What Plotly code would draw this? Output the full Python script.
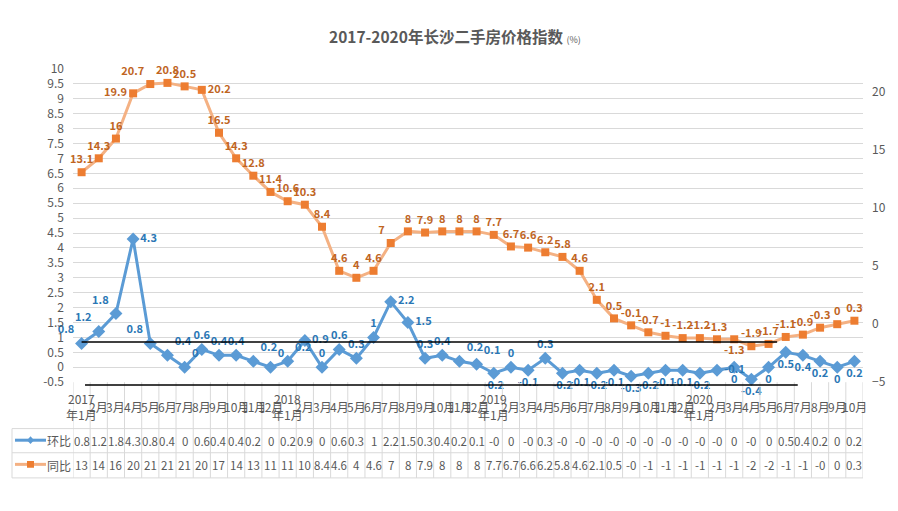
import plotly.graph_objects as go

W, H = 898, 511

# ---------------- data ----------------
years = ["2017", "2018", "2019", "2020"]
months_per_year = [12, 12, 12, 10]
categories = []
for yr, n in zip(years, months_per_year):
    for m in range(1, n + 1):
        categories.append(f"{yr}<br>年1月" if m == 1 else f"{m}月")

huanbi = [0.8, 1.2, 1.8, 4.3, 0.8, 0.4, 0, 0.6, 0.4, 0.4, 0.2, 0,
          0.2, 0.9, 0, 0.6, 0.3, 1, 2.2, 1.5, 0.3, 0.4, 0.2, 0.1,
          -0.2, 0, -0.1, 0.3, -0.2, -0.1, -0.2, -0.1, -0.3, -0.2, -0.1, -0.1,
          -0.2, -0.1, 0, -0.4, 0, 0.5, 0.4, 0.2, 0, 0.2]
tongbi = [13.1, 14.3, 16, 19.9, 20.7, 20.8, 20.5, 20.2, 16.5, 14.3, 12.8, 11.4,
          10.6, 10.3, 8.4, 4.6, 4, 4.6, 7, 8, 7.9, 8, 8, 8,
          7.7, 6.7, 6.6, 6.2, 5.8, 4.6, 2.1, 0.5, -0.1, -0.7, -1, -1.2,
          -1.2, -1.3, -1.3, -1.9, -1.7, -1.1, -0.9, -0.3, 0, 0.3]
series_names = ["环比", "同比"]
left_ticks = [i * 0.5 for i in range(-1, 21)]
right_ticks = [-5, 0, 5, 10, 15, 20]

# ---------------- styles ----------------
hb_pos = (["top left", "top left", "top left", "middle right", "top left", "top right",
           "top right", "top center", "top center", "top center", "top right", "top right",
           "top right", "middle right", "top center", "top center", "top center", "top center",
           "middle right", "middle right", "top center", "top center", "top right", "top right",
           "bottom center", "top center", "bottom center", "top center"]
          + ["bottom center"] * 9
          + ["middle right"] + ["bottom center"] * 8)
tb_pos = (["top center", "top center", "top center", "middle left", "top left", "top center",
           "top center", "middle right"] + ["top center"] * 10 + ["top left"]
          + ["top center"] * 18 + ["top center", "bottom center"] + ["top center"] * 7)

GRAY = "#595959"
FONT = "Noto Sans CJK SC, Noto Sans, sans-serif"
BLUE_LINE = "#5B9BD5"
BLUE_TXT = "#2A77B5"
ORANGE_LINE = "#F4B183"
ORANGE_MK = "#ED7D31"
ORANGE_TXT = "#C0651F"

def px(x):
    return x / W

def py(y):
    return 1 - y / H

PLOT_L, PLOT_R, PLOT_T, PLOT_B = 73, 863, 61, 385
TABLE_L, ROW1, ROW2, TABLE_B = 12, 433, 458, 484

def fmt_label(v):
    return f"{v:g}"

def fmt_cell(v):
    s = f"{v:g}"
    if len(s) <= 3:
        return s
    r = int(abs(v) + 0.5)
    if r == 0:
        return "-0" if v < 0 else "0"
    return str(-r if v < 0 else r)

xs = list(range(len(categories)))

fig = go.Figure()
fig.add_trace(go.Scatter(
    x=xs, y=huanbi, mode="lines+markers+text", name=series_names[0],
    line=dict(color=BLUE_LINE, width=3),
    marker=dict(symbol="diamond", size=10, color=BLUE_LINE),
    text=[fmt_label(v) for v in huanbi], textposition=hb_pos,
    textfont=dict(color=BLUE_TXT, size=11, family=FONT, weight="bold"),
    yaxis="y", cliponaxis=False, showlegend=False))
fig.add_trace(go.Scatter(
    x=xs, y=tongbi, mode="lines+markers+text", name=series_names[1],
    line=dict(color=ORANGE_LINE, width=3),
    marker=dict(symbol="square", size=8, color=ORANGE_MK),
    text=[fmt_label(v) for v in tongbi], textposition=tb_pos,
    textfont=dict(color=ORANGE_TXT, size=11, family=FONT, weight="bold"),
    yaxis="y2", cliponaxis=False, showlegend=False))

annotations = []
shapes = []

# title
annotations.append(dict(
    x=px(455), y=py(27), xref="paper", yref="paper", showarrow=False,
    text="<b>2017-2020年长沙二手房价格指数</b> <span style='font-size:9px'>(%)</span>",
    font=dict(size=15.5, color=GRAY, family=FONT), xanchor="center", yanchor="middle"))

CELL_FONT = dict(size=11.5, color=GRAY, family=FONT)
# category labels and table cells
for i, cat in enumerate(categories):
    annotations.append(dict(x=i, y=py(410), xref="x", yref="paper", text=cat,
                            showarrow=False, font=dict(size=12, color=GRAY, family=FONT),
                            xanchor="center", yanchor="middle"))
    annotations.append(dict(x=i, y=py(445.5), xref="x", yref="paper", text=fmt_cell(huanbi[i]),
                            showarrow=False, font=CELL_FONT, xanchor="center", yanchor="middle"))
    annotations.append(dict(x=i, y=py(471), xref="x", yref="paper", text=fmt_cell(tongbi[i]),
                            showarrow=False, font=CELL_FONT, xanchor="center", yanchor="middle"))

# legend names in table header
for name, yy in zip(series_names, [445.5, 471]):
    annotations.append(dict(x=px(73), y=py(yy), xref="paper", yref="paper", text=name,
                            showarrow=False, font=dict(size=12, color=GRAY, family=FONT),
                            xanchor="right", yanchor="middle"))

GRID = "#D9D9D9"
# table vertical lines
for i in range(len(categories) + 1):
    shapes.append(dict(type="line", xref="x", yref="paper", x0=i - 0.5, x1=i - 0.5,
                       y0=py(PLOT_B), y1=py(TABLE_B), line=dict(color=GRID, width=1)))
for yy in [ROW1, ROW2, TABLE_B]:
    shapes.append(dict(type="line", xref="paper", yref="paper", x0=px(TABLE_L), x1=px(PLOT_R),
                       y0=py(yy), y1=py(yy), line=dict(color=GRID, width=1)))
shapes.append(dict(type="line", xref="paper", yref="paper", x0=px(TABLE_L), x1=px(TABLE_L),
                   y0=py(ROW1), y1=py(TABLE_B), line=dict(color=GRID, width=1)))

# legend keys
shapes.append(dict(type="line", xref="paper", yref="paper", x0=px(15), x1=px(46),
                   y0=py(445), y1=py(445), line=dict(color=BLUE_LINE, width=3)))
shapes.append(dict(type="path", xref="paper", yref="paper",
                   path=f"M {px(30.5)},{py(441)} L {px(34)},{py(445)} L {px(30.5)},{py(449)} L {px(27)},{py(445)} Z",
                   fillcolor=BLUE_LINE, line=dict(width=0)))
shapes.append(dict(type="line", xref="paper", yref="paper", x0=px(15), x1=px(46),
                   y0=py(470), y1=py(470), line=dict(color=ORANGE_LINE, width=3)))
shapes.append(dict(type="rect", xref="paper", yref="paper", x0=px(27), x1=px(34),
                   y0=py(466.5), y1=py(473.5), fillcolor=ORANGE_MK, line=dict(width=0)))

# black marker lines drawn on the original picture
shapes.append(dict(type="line", xref="x", yref="y", x0=0.0, x1=40.5, y0=0.85, y1=0.85,
                   line=dict(color="black", width=1.5)))
shapes.append(dict(type="line", xref="x", yref="paper", x0=0.2, x1=41.7, y0=py(388), y1=py(388),
                   line=dict(color="black", width=1.5)))

fig.update_layout(
    width=W, height=H, margin=dict(l=0, r=0, t=0, b=0),
    paper_bgcolor="white", plot_bgcolor="white",
    font=dict(family=FONT, color=GRAY, size=12),
    xaxis=dict(domain=[px(PLOT_L), px(PLOT_R)], range=[-0.5, len(categories) - 0.5],
               showticklabels=False, showgrid=False, zeroline=False, showline=False, fixedrange=True),
    yaxis=dict(domain=[py(PLOT_B), py(PLOT_T)], range=[-0.5, 10], tickvals=left_ticks,
               ticktext=[f"{v:g}" for v in left_ticks], showgrid=True, gridcolor=GRID, gridwidth=1,
               zeroline=False, showline=False, ticks="", ticklabelstandoff=8,
               tickfont=dict(size=12, color=GRAY)),
    yaxis2=dict(overlaying="y", side="right", range=[-5, 22], tickvals=right_ticks,
                showgrid=False, zeroline=False, showline=False, ticks="", ticklabelstandoff=8,
                tickfont=dict(size=12, color=GRAY)),
    annotations=annotations, shapes=shapes,
)

fig.write_html("out.html", config={"displayModeBar": False},
               post_script="document.body.style.margin='0';document.body.style.overflow='hidden';")
